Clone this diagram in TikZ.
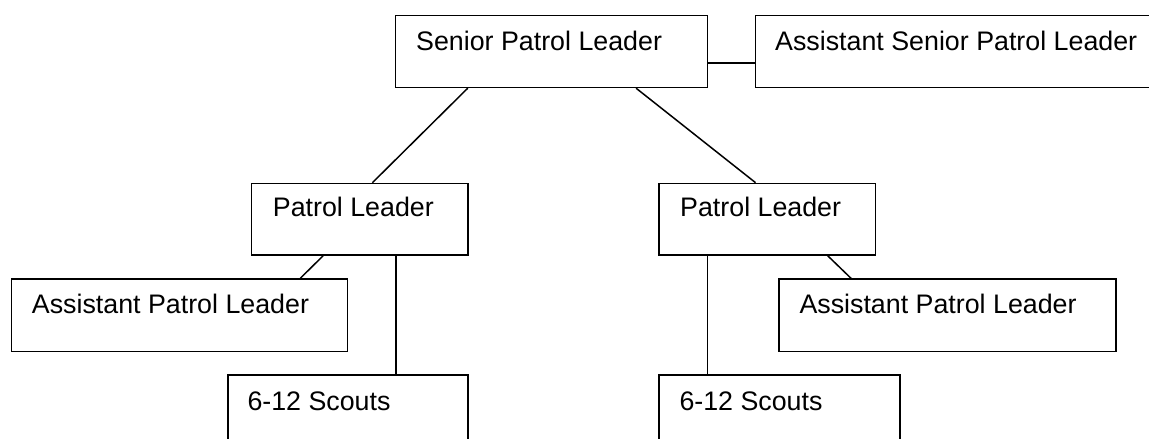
\documentclass[tikz,border=0pt]{standalone}
\usepackage{fontspec}
\setmainfont{Liberation Sans}
\usetikzlibrary{calc}
\begin{document}
\begin{tikzpicture}[x=1pt, y=-1pt,
    box/.style={draw, line width=1.5pt, inner sep=0pt, anchor=north west},
    lbl/.style={anchor=base west, inner sep=0pt, font=\fontsize{26.8}{30}\selectfont},
    link/.style={line width=1.5pt}]
  \useasboundingbox (0,0) rectangle (1149,439);
  \clip (0,0) rectangle (1149,439);
  % top row
  \node[box, minimum width=312pt, minimum height=72pt] (spl) at (394.7,14.7) {};
  \node[box, minimum width=420pt, minimum height=72pt] (aspl) at (754.7,14.7) {};
  \node[lbl] (splT) at ([shift={(21.3,35.3)}]spl.north west) {Senior Patrol Leader};
  \node[lbl] (asplT) at ([shift={(20.3,35.3)}]aspl.north west) {Assistant Senior Patrol Leader};
  % patrol leaders
  \node[box, minimum width=216.6pt, minimum height=71.6pt] (plL) at (250.7,182.7) {};
  \node[box, minimum width=216.6pt, minimum height=71.6pt] (plR) at (658.3,182.7) {};
  \node[lbl] (plLT) at ([shift={(22,34)}]plL.north west) {Patrol Leader};
  \node[lbl] (plRT) at ([shift={(21.7,34)}]plR.north west) {Patrol Leader};
  % assistants
  \node[box, minimum width=336pt, minimum height=72.4pt] (aplL) at (10.7,278.3) {};
  \node[box, minimum width=336.7pt, minimum height=72.4pt] (aplR) at (778.3,278.3) {};
  \node[lbl] (aplLT) at ([shift={(21,35)}]aplL.north west) {Assistant Patrol Leader};
  \node[lbl] (aplRT) at ([shift={(21,35)}]aplR.north west) {Assistant Patrol Leader};
  % scouts
  \node[box, minimum width=240pt, minimum height=100pt] (scL) at (227.3,374) {};
  \node[box, minimum width=240.7pt, minimum height=100pt] (scR) at (658.3,374) {};
  \node[lbl] (scLT) at ([shift={(20,36)}]scL.north west) {6-12 Scouts};
  \node[lbl] (scRT) at ([shift={(21,36)}]scR.north west) {6-12 Scouts};
  % connectors
  \coordinate (splE) at ($(spl.north east)!0.66!(spl.south east)$);
  \draw[link] (splE) -- (splE -| aspl.west);
  \draw[link] ($(spl.south west)!0.233!(spl.south east)$) -- ($(plL.north west)!0.558!(plL.north east)$);
  \draw[link] ($(spl.south west)!0.770!(spl.south east)$) -- ($(plR.north west)!0.446!(plR.north east)$);
  \draw[link] ($(plL.south west)!0.332!(plL.south east)$) -- ($(aplL.north west)!0.858!(aplL.north east)$);
  \coordinate (plLS) at ($(plL.south west)!0.666!(plL.south east)$);
  \draw[link] (plLS) -- (plLS |- scL.north);
  \coordinate (plRS) at ($(plR.south west)!0.226!(plR.south east)$);
  \draw[link] (plRS) -- (plRS |- scR.north);
  \draw[link] ($(plR.south west)!0.777!(plR.south east)$) -- ($(aplR.north west)!0.215!(aplR.north east)$);
\end{tikzpicture}
\end{document}
